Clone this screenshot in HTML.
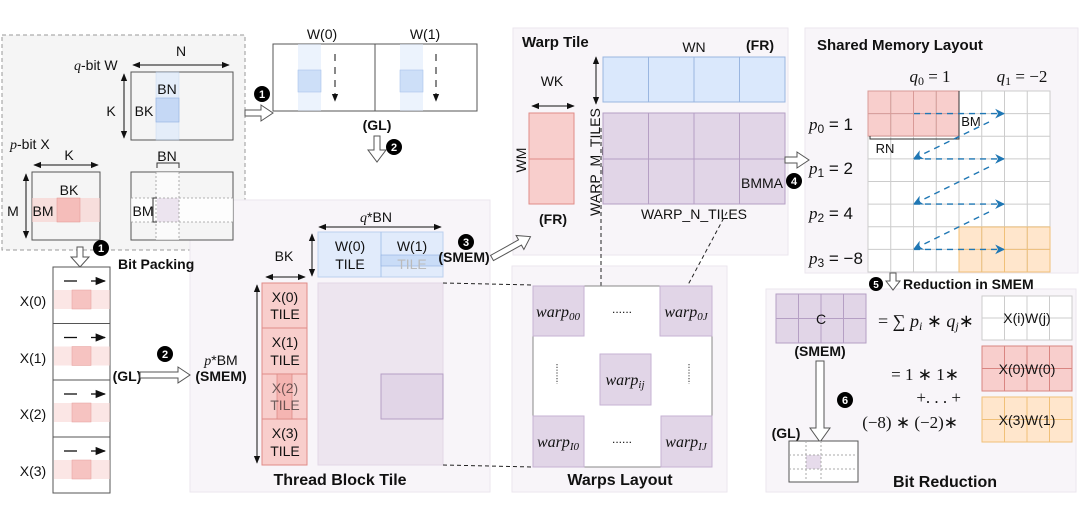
<!DOCTYPE html>
<html><head><meta charset="utf-8"><style>
html,body{margin:0;padding:0;background:#fff}
svg{display:block}
text{font-family:"Liberation Sans",sans-serif;fill:#111}
.b{font-weight:bold}
.m{font-family:"Liberation Serif",serif;font-style:italic}
.mr{font-family:"Liberation Serif",serif}
</style></head><body>
<svg width="1080" height="520" viewBox="0 0 1080 520" xmlns="http://www.w3.org/2000/svg">
<defs>
<marker id="a" viewBox="0 0 10 10" refX="9" refY="5" markerWidth="8" markerHeight="8" orient="auto-start-reverse"><path d="M0,1 L10,5 L0,9 z" fill="#111"/></marker>
<marker id="bl" viewBox="0 0 10 10" refX="9" refY="5" markerWidth="7" markerHeight="7" orient="auto"><path d="M0,0 L10,5 L0,10 L3,5 z" fill="#1f77b4"/></marker>
</defs>

<!-- panels -->
<rect x="2" y="35" width="243" height="215" fill="#f5f5f5" stroke="#999" stroke-dasharray="4,3"/>
<rect x="190" y="200" width="300" height="292" fill="#f8f5f9" stroke="#ebe6ee"/>
<rect x="513" y="28" width="275" height="227" fill="#f8f5f9" stroke="#ebe6ee"/>
<rect x="512" y="266" width="215" height="226" fill="#f8f5f9" stroke="#ebe6ee"/>
<rect x="805" y="28" width="273" height="245" fill="#f8f5f9" stroke="#ebe6ee"/>
<rect x="766" y="289" width="310" height="203" fill="#f8f5f9" stroke="#ebe6ee"/>

<!-- q-bit W -->
<text x="181" y="56" font-size="14" text-anchor="middle">N</text>
<line x1="133" y1="65" x2="229" y2="65" stroke="#111" marker-start="url(#a)" marker-end="url(#a)"/>
<text x="74" y="70" font-size="14"><tspan class="m">q</tspan>-bit W</text>
<rect x="131" y="72" width="102" height="68" fill="#f5f5f5" stroke="#555"/>
<rect x="156" y="72" width="23" height="68" fill="#dae8fc" opacity="0.6" stroke="#a9c4eb" stroke-width="0.5"/>
<rect x="156" y="98" width="23" height="24" fill="#c5d8f5" stroke="#8fb0e0" stroke-width="0.6"/>
<text x="167" y="94" font-size="14" text-anchor="middle">BN</text>
<text x="144" y="116" font-size="14" text-anchor="middle">BK</text>
<line x1="124" y1="74" x2="124" y2="138" stroke="#111" marker-start="url(#a)" marker-end="url(#a)"/>
<text x="111" y="116" font-size="14" text-anchor="middle">K</text>

<!-- p-bit X -->
<text x="10" y="149" font-size="14"><tspan class="m">p</tspan>-bit X</text>
<text x="69" y="160" font-size="14" text-anchor="middle">K</text>
<line x1="34" y1="165" x2="98" y2="165" stroke="#111" marker-start="url(#a)" marker-end="url(#a)"/>
<rect x="32" y="172" width="68" height="68" fill="#f5f5f5" stroke="#555"/>
<rect x="32" y="198" width="68" height="24" fill="#f8cecc" opacity="0.6"/>
<rect x="57" y="198" width="23" height="24" fill="#f5b5b2" opacity="0.8" stroke="#e08c88" stroke-width="0.6"/>
<text x="69" y="195" font-size="14" text-anchor="middle">BK</text>
<text x="43" y="216" font-size="14" text-anchor="middle">BM</text>
<line x1="26" y1="174" x2="26" y2="238" stroke="#111" marker-start="url(#a)" marker-end="url(#a)"/>
<text x="13" y="216" font-size="14" text-anchor="middle">M</text>

<!-- second small matrix -->
<rect x="131" y="172" width="102" height="68" fill="#f5f5f5" stroke="#555"/>
<rect x="131" y="198" width="102" height="24" fill="#fff" opacity="0.8"/>
<rect x="156" y="172" width="23" height="68" fill="#fff" opacity="0.6"/>
<rect x="157" y="198" width="22" height="24" fill="#ece4ef"/>
<g stroke="#999" stroke-dasharray="2,2" stroke-width="0.8">
<line x1="156" y1="172" x2="156" y2="240"/><line x1="179" y1="172" x2="179" y2="240"/>
<line x1="131" y1="198" x2="233" y2="198"/><line x1="131" y1="222" x2="233" y2="222"/></g>
<path d="M157,168 v-5 h22 v5" fill="none" stroke="#333"/>
<path d="M157,198 h-4 v24 h4" fill="none" stroke="#333"/>
<text x="167" y="161" font-size="14" text-anchor="middle">BN</text>
<text x="143" y="216" font-size="14" text-anchor="middle">BM</text>

<!-- arrow 1 right -->
<polygon points="245,110 261,110 261,105 273,113 261,121 261,116 245,116" fill="#fff" stroke="#555"/>
<circle cx="262" cy="94" r="8"/><text x="262" y="98" font-size="11" class="b" text-anchor="middle" style="fill:#fff">1</text>

<!-- GL W box -->
<text x="322" y="39" font-size="14" text-anchor="middle">W(0)</text>
<text x="425" y="39" font-size="14" text-anchor="middle">W(1)</text>
<rect x="273" y="44" width="204" height="67" fill="#fff" stroke="#555"/>
<line x1="375" y1="44" x2="375" y2="111" stroke="#555"/>
<rect x="298" y="44" width="23" height="67" fill="#dae8fc" opacity="0.5"/>
<rect x="298" y="70" width="23" height="22" fill="#cddff8" stroke="#a9c4eb" stroke-width="0.6"/>
<rect x="400" y="44" width="23" height="67" fill="#dae8fc" opacity="0.5"/>
<rect x="400" y="70" width="23" height="22" fill="#cddff8" stroke="#a9c4eb" stroke-width="0.6"/>
<line x1="335" y1="54" x2="335" y2="101" stroke="#111" stroke-dasharray="7,6" marker-end="url(#a)"/>
<line x1="436" y1="54" x2="436" y2="101" stroke="#111" stroke-dasharray="7,6" marker-end="url(#a)"/>
<text x="377" y="130" font-size="14" class="b" text-anchor="middle">(GL)</text>
<polygon points="374,136 380,136 380,150 386,150 377,162 368,150 374,150" fill="#fff" stroke="#555"/>
<circle cx="394" cy="147" r="8"/><text x="394" y="151" font-size="11" class="b" text-anchor="middle" style="fill:#fff">2</text>

<!-- Thread block tile -->
<text x="376" y="222" font-size="14" text-anchor="middle"><tspan class="m">q</tspan>*BN</text>
<line x1="319" y1="227" x2="441" y2="227" stroke="#111" marker-start="url(#a)" marker-end="url(#a)"/>
<rect x="318" y="232" width="125" height="45" fill="#dae8fc" opacity="0.75" stroke="#a9c4eb"/>
<line x1="381" y1="232" x2="381" y2="277" stroke="#a9c4eb"/>
<rect x="381" y="255" width="62" height="11" fill="#c9dcf7" stroke="#8fb0e0" stroke-width="0.6"/>
<text x="350" y="251" font-size="14" text-anchor="middle">W(0)</text>
<text x="350" y="269" font-size="14" text-anchor="middle">TILE</text>
<text x="412" y="251" font-size="14" text-anchor="middle">W(1)</text>
<text x="412" y="269" font-size="14" text-anchor="middle" style="fill:#bbb">TILE</text>
<text x="284" y="261" font-size="14" text-anchor="middle">BK</text>
<line x1="312" y1="234" x2="312" y2="276" stroke="#111" marker-start="url(#a)" marker-end="url(#a)"/>
<line x1="266" y1="277" x2="305" y2="277" stroke="#111" marker-start="url(#a)" marker-end="url(#a)"/>
<circle cx="466" cy="242" r="8"/><text x="466" y="246" font-size="11" class="b" text-anchor="middle" style="fill:#fff">3</text>
<text x="464" y="262" font-size="14" class="b" text-anchor="middle">(SMEM)</text>
<g transform="translate(492,258) rotate(-29)"><polygon points="0,-3 32,-3 32,-8 44,0 32,8 32,3 0,3" fill="#fff" stroke="#555"/></g>

<g stroke="#e08c88" fill="#f8cecc">
<rect x="262" y="283" width="45" height="45"/><rect x="262" y="328" width="45" height="46"/>
<rect x="262" y="374" width="45" height="45"/><rect x="262" y="419" width="45" height="46"/></g>
<rect x="277" y="374" width="15" height="45" fill="#f5b5b2" stroke="#d98581" stroke-width="0.7"/>
<text x="285" y="302" font-size="14" text-anchor="middle">X(0)</text><text x="285" y="319" font-size="14" text-anchor="middle">TILE</text>
<text x="285" y="347" font-size="14" text-anchor="middle">X(1)</text><text x="285" y="365" font-size="14" text-anchor="middle">TILE</text>
<text x="285" y="393" font-size="14" text-anchor="middle" opacity="0.6">X(2)</text><text x="285" y="410" font-size="14" text-anchor="middle" opacity="0.6">TILE</text>
<text x="285" y="438" font-size="14" text-anchor="middle">X(3)</text><text x="285" y="456" font-size="14" text-anchor="middle">TILE</text>
<line x1="257" y1="285" x2="257" y2="463" stroke="#111" marker-start="url(#a)" marker-end="url(#a)"/>
<text x="221" y="365" font-size="14" text-anchor="middle"><tspan class="m">p</tspan>*BM</text>
<text x="221" y="381" font-size="14" class="b" text-anchor="middle">(SMEM)</text>
<rect x="318" y="283" width="125" height="182" fill="#ede5ef" stroke="#e2d8e6"/>
<rect x="381" y="374" width="62" height="45" fill="#e1d5e7" stroke="#b59fc4"/>
<text x="340" y="485" font-size="16" class="b" text-anchor="middle">Thread Block Tile</text>

<!-- bit packing -->
<polygon points="77,247 83,247 83,257 89,257 80,267 71,257 77,257" fill="#fff" stroke="#555"/>
<circle cx="101" cy="248" r="8"/><text x="101" y="252" font-size="11" class="b" text-anchor="middle" style="fill:#fff">1</text>
<text x="118" y="269" font-size="14" class="b">Bit Packing</text>
<rect x="53" y="267" width="57" height="226" fill="#fff" stroke="#555"/>
<g id="bp">
<line x1="64" y1="281" x2="77" y2="281" stroke="#111" stroke-width="1.3"/>
<line x1="91" y1="281" x2="105" y2="281" stroke="#111" stroke-width="1.3" marker-end="url(#a)"/>
<rect x="54" y="290" width="56" height="19" fill="#f8cecc" opacity="0.5"/>
<rect x="72" y="290" width="19" height="19" fill="#f5b5b2" opacity="0.7" stroke="#e08c88" stroke-width="0.6"/>
</g>
<use href="#bp" y="56.5"/><use href="#bp" y="113"/><use href="#bp" y="170"/>
<line x1="53" y1="323.5" x2="110" y2="323.5" stroke="#555"/>
<line x1="53" y1="380" x2="110" y2="380" stroke="#555"/>
<line x1="53" y1="437" x2="110" y2="437" stroke="#555"/>
<text x="33" y="306" font-size="14" text-anchor="middle">X(0)</text>
<text x="33" y="363" font-size="14" text-anchor="middle">X(1)</text>
<text x="33" y="419" font-size="14" text-anchor="middle">X(2)</text>
<text x="33" y="476" font-size="14" text-anchor="middle">X(3)</text>
<text x="127" y="381" font-size="14" class="b" text-anchor="middle">(GL)</text>
<polygon points="140,372 178,372 178,367 190,375 178,383 178,378 140,378" fill="#fff" stroke="#555"/>
<circle cx="165" cy="354" r="8"/><text x="165" y="358" font-size="11" class="b" text-anchor="middle" style="fill:#fff">2</text>

<!-- warp tile -->
<text x="522" y="47" font-size="15" class="b">Warp Tile</text>
<text x="694" y="52" font-size="14" text-anchor="middle">WN</text>
<text x="760" y="50" font-size="14" class="b" text-anchor="middle">(FR)</text>
<rect x="603" y="57" width="182" height="45" fill="#dae8fc" stroke="#9ab6e0"/>
<g stroke="#9ab6e0"><line x1="648.5" y1="57" x2="648.5" y2="102"/><line x1="694" y1="57" x2="694" y2="102"/><line x1="739.5" y1="57" x2="739.5" y2="102"/></g>
<text x="552" y="86" font-size="14" text-anchor="middle">WK</text>
<line x1="532" y1="106" x2="574" y2="106" stroke="#111" marker-start="url(#a)" marker-end="url(#a)"/>
<rect x="529" y="113" width="45" height="91" fill="#f8cecc" stroke="#e08c88"/>
<line x1="529" y1="159" x2="574" y2="159" stroke="#e08c88"/>
<text transform="translate(526,160) rotate(-90)" font-size="14" text-anchor="middle">WM</text>
<text x="553" y="224" font-size="14" class="b" text-anchor="middle">(FR)</text>
<line x1="596" y1="57" x2="596" y2="104" stroke="#111" marker-start="url(#a)" marker-end="url(#a)"/>
<text transform="translate(600,162) rotate(-90)" font-size="14" text-anchor="middle">WARP_M_TILES</text>
<rect x="603" y="113" width="182" height="91" fill="#e1d5e7" stroke="#b59fc4"/>
<g stroke="#b59fc4"><line x1="648.5" y1="113" x2="648.5" y2="204"/><line x1="694" y1="113" x2="694" y2="204"/><line x1="739.5" y1="113" x2="739.5" y2="204"/><line x1="603" y1="159" x2="785" y2="159"/></g>
<text x="762" y="188" font-size="14" text-anchor="middle">BMMA</text>
<text x="694" y="219" font-size="14" text-anchor="middle">WARP_N_TILES</text>
<circle cx="794" cy="181" r="8"/><text x="794" y="185" font-size="11" class="b" text-anchor="middle" style="fill:#fff">4</text>
<polygon points="785,157 797,157 797,152 809,160 797,168 797,163 785,163" fill="#fff" stroke="#555"/>

<!-- dashed connectors -->
<g stroke="#222" stroke-dasharray="4,3" fill="none">
<line x1="601" y1="128" x2="601" y2="354"/>
<line x1="727" y1="212" x2="651" y2="354"/>
<line x1="443" y1="283" x2="533" y2="285"/>
<line x1="443" y1="465" x2="533" y2="467"/>
</g>

<!-- warps layout -->
<rect x="533" y="286" width="179" height="181" fill="#fff" stroke="#888"/>
<g fill="#e1d5e7" stroke="#c6b2d3">
<rect x="533" y="286" width="51" height="50"/><rect x="660" y="286" width="52" height="50"/>
<rect x="600" y="354" width="51" height="51"/>
<rect x="533" y="416" width="51" height="51"/><rect x="661" y="416" width="51" height="51"/></g>
<text x="558" y="317" font-size="16" class="m" text-anchor="middle">warp<tspan font-size="11" dy="3">00</tspan></text>
<text x="686" y="317" font-size="16" class="m" text-anchor="middle">warp<tspan font-size="11" dy="3">0J</tspan></text>
<text x="625" y="385" font-size="16" class="m" text-anchor="middle">warp<tspan font-size="11" dy="3">ij</tspan></text>
<text x="558" y="447" font-size="16" class="m" text-anchor="middle">warp<tspan font-size="11" dy="3">I0</tspan></text>
<text x="686" y="447" font-size="16" class="m" text-anchor="middle">warp<tspan font-size="11" dy="3">IJ</tspan></text>
<text x="622" y="313" font-size="12" text-anchor="middle">......</text>
<text x="622" y="443" font-size="12" text-anchor="middle">......</text>
<line x1="557" y1="364" x2="557" y2="384" stroke="#333" stroke-dasharray="1.2,1.6"/>
<line x1="689" y1="364" x2="689" y2="384" stroke="#333" stroke-dasharray="1.2,1.6"/>
<text x="620" y="485" font-size="16" class="b" text-anchor="middle">Warps Layout</text>

<!-- shared memory layout -->
<text x="817" y="50" font-size="15" class="b">Shared Memory Layout</text>
<text x="930" y="82" font-size="17" class="mr" text-anchor="middle"><tspan class="m">q</tspan><tspan font-size="12" dy="3">0</tspan><tspan dy="-3"> = 1</tspan></text>
<text x="1022" y="82" font-size="17" class="mr" text-anchor="middle"><tspan class="m">q</tspan><tspan font-size="12" dy="3">1</tspan><tspan dy="-3"> = −2</tspan></text>
<rect x="868" y="91" width="182" height="181" fill="#fff"/>
<rect x="868" y="91" width="91" height="45" fill="#f8cecc"/>
<rect x="959" y="227" width="91" height="45" fill="#ffe6cc"/>
<g stroke="#ccc" stroke-width="1">
<line x1="890.75" y1="91" x2="890.75" y2="272"/><line x1="913.5" y1="91" x2="913.5" y2="272"/><line x1="936.25" y1="91" x2="936.25" y2="272"/><line x1="959" y1="91" x2="959" y2="272"/><line x1="981.75" y1="91" x2="981.75" y2="272"/><line x1="1004.5" y1="91" x2="1004.5" y2="272"/><line x1="1027.25" y1="91" x2="1027.25" y2="272"/>
<line x1="868" y1="113.6" x2="1050" y2="113.6"/><line x1="868" y1="136.2" x2="1050" y2="136.2"/><line x1="868" y1="158.9" x2="1050" y2="158.9"/><line x1="868" y1="181.5" x2="1050" y2="181.5"/><line x1="868" y1="204.1" x2="1050" y2="204.1"/><line x1="868" y1="226.8" x2="1050" y2="226.8"/><line x1="868" y1="249.4" x2="1050" y2="249.4"/>
<rect x="868" y="91" width="182" height="181" fill="none"/></g>
<g stroke="#d99a97" fill="none"><rect x="868" y="91" width="91" height="45"/><line x1="890.75" y1="91" x2="890.75" y2="136"/><line x1="913.5" y1="91" x2="913.5" y2="136"/><line x1="936.25" y1="91" x2="936.25" y2="136"/><line x1="868" y1="113.6" x2="959" y2="113.6"/></g>
<g stroke="#f0c078" fill="none"><rect x="959" y="227" width="91" height="45"/><line x1="981.75" y1="227" x2="981.75" y2="272"/><line x1="1004.5" y1="227" x2="1004.5" y2="272"/><line x1="1027.25" y1="227" x2="1027.25" y2="272"/><line x1="959" y1="249.4" x2="1050" y2="249.4"/></g>
<path d="M870,136 v3 h89 v-48" fill="none" stroke="#333"/>
<text x="971" y="126" font-size="13" text-anchor="middle">BM</text>
<text x="885" y="153" font-size="13" text-anchor="middle">RN</text>
<g stroke="#1f77b4" stroke-width="1.4" stroke-dasharray="6,5" fill="none">
<line x1="914" y1="113.6" x2="1004" y2="113.6" marker-end="url(#bl)"/>
<line x1="989" y1="122" x2="914" y2="158.5" marker-end="url(#bl)"/>
<line x1="914" y1="158.9" x2="1004" y2="158.9" marker-end="url(#bl)"/>
<line x1="989" y1="167" x2="914" y2="204" marker-end="url(#bl)"/>
<line x1="914" y1="204.1" x2="1004" y2="204.1" marker-end="url(#bl)"/>
<line x1="989" y1="212" x2="914" y2="249" marker-end="url(#bl)"/>
<line x1="914" y1="249.4" x2="1004" y2="249.4" marker-end="url(#bl)"/>
</g>
<g font-size="17" class="mr">
<text x="809" y="130"><tspan class="m">p</tspan><tspan font-size="12" dy="3">0</tspan><tspan dy="-3"> = 1</tspan></text>
<text x="809" y="174"><tspan class="m">p</tspan><tspan font-size="12" dy="3">1</tspan><tspan dy="-3"> = 2</tspan></text>
<text x="809" y="219"><tspan class="m">p</tspan><tspan font-size="12" dy="3">2</tspan><tspan dy="-3"> = 4</tspan></text>
<text x="809" y="264"><tspan class="m">p</tspan><tspan font-size="12" dy="3">3</tspan><tspan dy="-3"> = −8</tspan></text>
</g>

<!-- reduction -->
<polygon points="890,273 896,273 896,281 900,281 893,290 886,281 890,281" fill="#fff" stroke="#555"/>
<circle cx="876" cy="284" r="7"/><text x="876" y="288" font-size="10" class="b" text-anchor="middle" style="fill:#fff">5</text>
<text x="903" y="289" font-size="14" class="b">Reduction in SMEM</text>
<rect x="776" y="294" width="90" height="49" fill="#e1d5e7" stroke="#b59fc4"/>
<g stroke="#b59fc4"><line x1="798.5" y1="294" x2="798.5" y2="343"/><line x1="821" y1="294" x2="821" y2="343"/><line x1="843.5" y1="294" x2="843.5" y2="343"/><line x1="776" y1="318.5" x2="866" y2="318.5"/></g>
<text x="821" y="324" font-size="14" text-anchor="middle">C</text>
<text x="820" y="356" font-size="14" class="b" text-anchor="middle">(SMEM)</text>
<text x="878" y="327" font-size="18" class="mr">= ∑ <tspan class="m">p</tspan><tspan font-size="12" dy="3" class="m">i</tspan><tspan dy="-3"> ∗ </tspan><tspan class="m">q</tspan><tspan font-size="12" dy="3" class="m">j</tspan><tspan dy="-3">∗</tspan></text>
<text x="959" y="380" font-size="17" class="mr" text-anchor="end">= 1 ∗ 1∗</text>
<text x="961" y="403" font-size="17" class="mr" text-anchor="end">+. . . +</text>
<text x="958" y="428" font-size="17" class="mr" text-anchor="end">(−8) ∗ (−2)∗</text>
<rect x="982" y="296" width="90" height="44" fill="#fff" stroke="#ccc"/>
<g stroke="#ccc"><line x1="1004.5" y1="296" x2="1004.5" y2="340"/><line x1="1027" y1="296" x2="1027" y2="340"/><line x1="1049.5" y1="296" x2="1049.5" y2="340"/><line x1="982" y1="318" x2="1072" y2="318"/></g>
<text x="1027" y="323" font-size="14" text-anchor="middle">X(i)W(j)</text>
<rect x="982" y="346" width="90" height="45" fill="#f8cecc" stroke="#d98581"/>
<g stroke="#d98581"><line x1="1004.5" y1="346" x2="1004.5" y2="391"/><line x1="1027" y1="346" x2="1027" y2="391"/><line x1="1049.5" y1="346" x2="1049.5" y2="391"/><line x1="982" y1="368.5" x2="1072" y2="368.5"/></g>
<text x="1027" y="374" font-size="14" text-anchor="middle">X(0)W(0)</text>
<rect x="982" y="397" width="90" height="45" fill="#ffe6cc" stroke="#f0c078"/>
<g stroke="#f0c078"><line x1="1004.5" y1="397" x2="1004.5" y2="442"/><line x1="1027" y1="397" x2="1027" y2="442"/><line x1="1049.5" y1="397" x2="1049.5" y2="442"/><line x1="982" y1="419.5" x2="1072" y2="419.5"/></g>
<text x="1027" y="425" font-size="14" text-anchor="middle">X(3)W(1)</text>
<polygon points="816,361 824,361 824,428 830,428 820,442 810,428 816,428" fill="#fff" stroke="#555"/>
<circle cx="845" cy="400" r="8"/><text x="845" y="404" font-size="11" class="b" text-anchor="middle" style="fill:#fff">6</text>
<text x="786" y="438" font-size="14" class="b" text-anchor="middle">(GL)</text>
<rect x="789" y="441" width="69" height="41" fill="#fff" stroke="#555"/>
<rect x="806" y="455" width="15" height="14" fill="#e6dbeb"/>
<g stroke="#aaa" stroke-dasharray="2,2"><line x1="806" y1="441" x2="806" y2="482"/><line x1="821" y1="441" x2="821" y2="482"/><line x1="789" y1="455" x2="858" y2="455"/><line x1="789" y1="469" x2="858" y2="469"/></g>
<text x="945" y="487" font-size="16" class="b" text-anchor="middle">Bit Reduction</text>
</svg>
</body></html>
